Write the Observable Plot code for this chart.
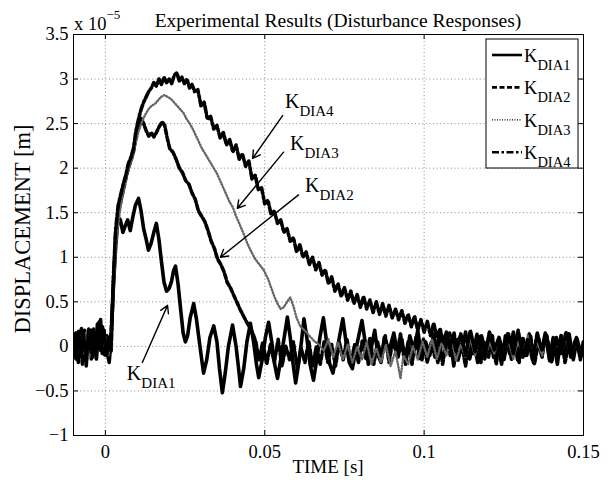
<!DOCTYPE html>
<html><head><meta charset="utf-8">
<script src="https://cdn.jsdelivr.net/npm/d3@7"></script>
<script src="https://cdn.jsdelivr.net/npm/@observablehq/plot@0.6"></script>
<style>body{margin:0;background:#fff;}</style>
</head><body><div id="chart"></div>
<script>
// ---- data (time in s, displacement in units of 1e-5 m) ----
const xTicks = [0, 0.05, 0.1, 0.15];
const yTicks = [-1, -0.5, 0, 0.5, 1, 1.5, 2, 2.5, 3, 3.5];
const seriesNames = ["DIA1", "DIA2", "DIA3", "DIA4"];

const kdia1 = [
[-0.0100,0.08],[-0.0095,-0.12],[-0.0090,0.15],[-0.0085,-0.18],[-0.0080,0.05],[-0.0075,0.20],[-0.0070,-0.15],[-0.0065,0.10],[-0.0060,-0.22],[-0.0055,0.12],[-0.0050,0.02],[-0.0045,0.18],[-0.0040,-0.12],[-0.0035,0.15],[-0.0030,-0.05],[-0.0025,0.25],[-0.0020,0.05],[-0.0015,0.30],[-0.0010,-0.08],[-0.0005,0.15],[0.0000,0.10],[0.0005,-0.05],[0.0012,-0.18],[0.0018,0.10],
[0.0025,0.65],[0.0032,1.10],[0.0040,1.45],[0.0047,1.42],[0.0055,1.28],[0.0062,1.35],[0.0070,1.42],[0.0078,1.30],[0.0086,1.45],[0.0094,1.58],[0.0104,1.66],[0.0112,1.52],[0.0120,1.32],[0.0128,1.20],[0.0135,1.08],[0.0143,1.15],[0.0152,1.28],[0.0160,1.38],[0.0168,1.20],[0.0176,0.95],[0.0184,0.72],[0.0192,0.62],[0.0200,0.65],[0.0207,0.72],[0.0214,0.85],[0.0220,0.90],[0.0228,0.70],[0.0236,0.42],[0.0244,0.15],[0.0251,0.05],[0.0258,0.12],[0.0266,0.32],[0.0277,0.48],[0.0286,0.30],[0.0296,0.02],[0.0308,-0.30],[0.0318,-0.15],[0.0328,0.10],[0.0340,0.23],[0.0350,0.05],[0.0358,-0.25],[0.0367,-0.52],[0.0376,-0.30],[0.0386,0.00],[0.0399,0.24],[0.0410,0.00],[0.0418,-0.25],[0.0424,-0.45],[0.0434,-0.25],[0.0444,0.05],[0.0455,0.26],[0.0465,0.05],[0.0474,-0.20],[0.0481,-0.35],[0.0492,-0.15],[0.0502,0.10],[0.0512,0.27],[0.0522,0.05],[0.0531,-0.20],[0.0540,-0.36],[0.0550,-0.15],[0.0561,0.10],[0.0571,0.33],[0.0580,0.10],[0.0589,-0.20],[0.0597,-0.41],[0.0606,-0.20],[0.0615,0.05],[0.0623,0.31],[0.0632,0.10],[0.0642,-0.20],[0.0653,-0.38],[0.0663,-0.15],[0.0673,0.10],[0.0684,0.32],[0.0694,0.05],[0.0704,-0.20],[0.0714,-0.30],[0.0724,-0.10],[0.0734,0.10],[0.0745,0.31],[0.0755,0.05],[0.0765,-0.18],[0.0775,-0.25],[0.0785,-0.05],[0.0795,0.12],[0.0805,0.29],[0.0815,0.05],[0.0825,-0.20],[0.0835,0.00],[0.0845,0.18],[0.0855,-0.10],[0.0865,-0.18],[0.0875,0.10],
[0.0890,-0.05],[0.0905,0.15],[0.0918,-0.12],[0.0930,0.08],[0.0942,-0.20],[0.0955,0.12],[0.0968,-0.05],[0.0980,0.18],[0.0993,-0.15],[0.1005,0.05],[0.1018,-0.10],[0.1030,0.14],[0.1043,-0.18],[0.1056,0.10],[0.1068,-0.08],[0.1080,0.15],[0.1093,-0.22],[0.1105,0.08],[0.1118,-0.05],[0.1130,0.16],[0.1143,-0.14],[0.1156,0.06],[0.1168,-0.18],[0.1180,0.12],[0.1193,-0.06],[0.1205,0.15],[0.1218,-0.12],[0.1230,0.05],[0.1243,-0.20],[0.1255,0.12],[0.1268,-0.08],[0.1280,0.16],[0.1293,-0.15],[0.1305,0.08],[0.1318,-0.10],[0.1330,0.14],[0.1343,-0.18],[0.1355,0.05],[0.1368,-0.06],[0.1380,0.15],[0.1393,-0.14],[0.1405,0.10],[0.1418,-0.20],[0.1430,0.12],[0.1443,-0.05],[0.1455,0.14],[0.1468,-0.15],[0.1480,0.08],[0.1493,-0.10],[0.1500,0.05]
];

const kdia2 = [
[-0.0100,-0.05],[-0.0093,0.15],[-0.0086,-0.15],[-0.0079,0.10],[-0.0072,-0.20],[-0.0065,0.18],[-0.0058,-0.08],[-0.0051,0.12],[-0.0044,-0.15],[-0.0037,0.20],[-0.0030,-0.10],[-0.0023,0.15],[-0.0016,-0.05],[-0.0009,0.22],[-0.0002,-0.10],[0.0005,0.12],[0.0012,-0.12],[0.0018,0.15],
[0.0025,0.70],[0.0032,1.25],[0.0040,1.50],[0.0048,1.62],[0.0056,1.75],[0.0064,1.88],[0.0072,2.00],[0.0080,2.08],[0.0088,2.18],[0.0096,2.35],[0.0104,2.48],[0.0112,2.56],[0.0120,2.50],[0.0128,2.42],[0.0136,2.36],[0.0144,2.40],[0.0152,2.35],[0.0160,2.40],[0.0168,2.46],[0.0178,2.52],[0.0186,2.48],[0.0194,2.34],[0.0202,2.22],[0.0212,2.18],[0.0222,2.10],[0.0232,2.00],[0.0242,1.95],[0.0252,1.86],[0.0262,1.82],[0.0272,1.72],[0.0282,1.65],[0.0292,1.52],[0.0302,1.46],[0.0312,1.40],[0.0322,1.30],[0.0332,1.18],[0.0342,1.10],[0.0352,0.98],[0.0362,0.92],[0.0372,0.84],[0.0382,0.72],[0.0392,0.66],[0.0402,0.58],[0.0412,0.50],[0.0422,0.42],[0.0432,0.35],[0.0442,0.28],[0.0452,0.22],[0.0462,0.15],[0.0472,0.05],
[0.0482,-0.15],[0.0494,0.05],[0.0506,-0.20],[0.0518,0.02],[0.0530,-0.18],[0.0542,0.08],[0.0554,-0.22],[0.0566,0.00],[0.0578,-0.15],[0.0590,0.05],[0.0602,-0.25],[0.0614,-0.02],[0.0626,-0.18],[0.0638,0.06],[0.0650,-0.22],[0.0662,0.00],[0.0674,-0.20],[0.0686,0.05],[0.0698,-0.18],[0.0710,0.02],[0.0722,-0.22],[0.0734,0.05],[0.0746,-0.15],[0.0758,0.08],[0.0770,-0.20],[0.0782,0.02],[0.0794,-0.18],[0.0806,0.06],[0.0818,-0.15],[0.0830,0.10],[0.0842,-0.20],[0.0854,0.05],[0.0866,-0.12],[0.0878,0.12],[0.0890,-0.18],[0.0902,0.08],[0.0914,-0.10],[0.0926,0.14],[0.0938,-0.16],[0.0950,0.05],[0.0962,-0.20],[0.0974,0.10],
[0.0986,-0.14],[0.0998,0.08],[0.1010,-0.18],[0.1022,0.04],[0.1034,-0.12],[0.1046,0.12],[0.1058,-0.20],[0.1070,0.06],[0.1082,-0.10],[0.1094,0.15],[0.1106,-0.16],[0.1118,0.02],[0.1130,-0.22],[0.1142,0.10],[0.1154,-0.08],[0.1166,0.14],[0.1178,-0.18],[0.1190,0.04],[0.1202,-0.12],[0.1214,0.12],[0.1226,-0.20],[0.1238,0.06],[0.1250,-0.08],[0.1262,0.14],[0.1274,-0.15],[0.1286,0.02],[0.1298,-0.18],[0.1310,0.10],[0.1322,-0.10],[0.1334,0.12],[0.1346,-0.20],[0.1358,0.04],[0.1370,-0.12],[0.1382,0.14],[0.1394,-0.16],[0.1406,0.06],[0.1418,-0.10],[0.1430,0.12],[0.1442,-0.18],[0.1454,0.02],[0.1466,-0.12],[0.1478,0.10],[0.1490,-0.15],[0.1500,0.02]
];

const kdia3 = [
[-0.0100,0.05],[-0.0090,-0.10],[-0.0080,0.12],[-0.0070,-0.08],[-0.0060,0.15],[-0.0050,-0.12],[-0.0040,0.10],[-0.0030,-0.05],[-0.0020,0.20],[-0.0010,0.00],[0.0000,0.12],[0.0010,-0.10],[0.0018,0.12],
[0.0025,0.60],[0.0035,1.20],[0.0045,1.50],[0.0055,1.72],[0.0065,1.88],[0.0075,2.02],[0.0085,2.12],[0.0095,2.28],[0.0105,2.42],[0.0115,2.52],[0.0125,2.60],[0.0135,2.66],[0.0145,2.70],[0.0155,2.72],[0.0165,2.76],[0.0175,2.80],[0.0185,2.82],[0.0195,2.80],[0.0205,2.78],[0.0215,2.74],[0.0225,2.70],[0.0235,2.66],[0.0245,2.62],[0.0255,2.55],[0.0265,2.50],[0.0277,2.42],[0.0290,2.32],[0.0300,2.24],[0.0310,2.18],[0.0320,2.12],[0.0330,2.06],[0.0340,2.00],[0.0350,1.94],[0.0360,1.86],[0.0370,1.78],[0.0380,1.70],[0.0390,1.62],[0.0400,1.56],[0.0410,1.46],[0.0420,1.38],[0.0433,1.27],[0.0445,1.16],[0.0458,1.06],[0.0470,0.98],[0.0483,0.92],[0.0496,0.86],[0.0510,0.76],[0.0520,0.66],[0.0530,0.56],[0.0540,0.48],[0.0550,0.42],[0.0560,0.44],[0.0570,0.50],[0.0580,0.55],[0.0590,0.45],[0.0600,0.32],[0.0612,0.22],[0.0625,0.18],[0.0640,0.12],[0.0655,0.06],[0.0670,0.02],[0.0685,-0.05],[0.0700,0.08],[0.0715,-0.12],[0.0730,0.05],[0.0745,-0.15],[0.0760,0.02],[0.0775,-0.18],[0.0790,0.00],[0.0805,-0.15],[0.0820,0.05],[0.0835,-0.20],[0.0850,-0.02],[0.0865,-0.18],[0.0880,0.02],[0.0895,-0.22],[0.0910,-0.05],[0.0926,-0.36],[0.0935,-0.10],[0.0950,-0.20],[0.0965,0.00],[0.0980,-0.15],[0.0995,0.05],[0.1010,-0.12],
[0.1025,0.08],[0.1040,-0.14],[0.1055,0.04],[0.1070,-0.10],[0.1085,0.10],[0.1100,-0.16],[0.1115,0.02],[0.1130,-0.12],[0.1145,0.08],[0.1160,-0.10],[0.1175,0.12],[0.1190,-0.14],[0.1205,0.04],[0.1220,-0.08],[0.1235,0.10],[0.1250,-0.12],[0.1265,0.06],[0.1280,-0.14],[0.1295,0.08],[0.1310,-0.10],[0.1325,0.12],[0.1340,-0.12],[0.1355,0.04],[0.1370,-0.10],[0.1385,0.10],[0.1400,-0.14],[0.1415,0.06],[0.1430,-0.08],[0.1445,0.10],[0.1460,-0.12],[0.1475,0.04],[0.1490,-0.06],[0.1500,0.02]
];

const kdia4 = [
[-0.0100,0.10],[-0.0092,-0.15],[-0.0084,0.18],[-0.0076,-0.10],[-0.0068,0.12],[-0.0060,-0.18],[-0.0052,0.20],[-0.0044,-0.08],[-0.0036,0.15],[-0.0028,-0.15],[-0.0020,0.28],[-0.0012,0.00],[-0.0004,0.18],[0.0004,-0.10],[0.0012,0.10],[0.0018,-0.05],
[0.0025,0.75],[0.0032,1.30],[0.0040,1.58],[0.0048,1.70],[0.0056,1.82],[0.0064,1.92],[0.0072,2.05],[0.0080,2.12],[0.0088,2.22],[0.0096,2.42],[0.0104,2.55],[0.0112,2.66],[0.0120,2.74],[0.0128,2.80],[0.0136,2.86],[0.0144,2.90],[0.0152,2.96],[0.0160,2.92],[0.0168,3.00],[0.0176,2.94],[0.0184,3.02],[0.0192,2.96],[0.0200,3.00],[0.0208,2.95],[0.0216,3.04],[0.0224,3.07],[0.0232,2.98],[0.0240,3.02],[0.0248,2.95],[0.0256,3.00],[0.0264,2.90],[0.0272,2.94],[0.0280,2.86],
[0.0290,2.88],[0.0300,2.70],[0.0310,2.74],[0.0320,2.55],[0.0330,2.58],[0.0340,2.44],[0.0350,2.48],[0.0360,2.34],[0.0370,2.40],[0.0380,2.26],[0.0390,2.32],[0.0400,2.18],[0.0410,2.26],[0.0420,2.10],[0.0430,2.16],[0.0440,2.02],[0.0450,2.08],[0.0460,1.88],[0.0470,1.92],[0.0480,1.76],[0.0490,1.78],[0.0500,1.60],[0.0510,1.64],[0.0520,1.48],[0.0530,1.52],[0.0540,1.38],[0.0550,1.42],[0.0560,1.28],[0.0570,1.32],[0.0580,1.18],[0.0590,1.22],[0.0600,1.06],[0.0610,1.14],[0.0620,1.00],[0.0630,1.06],[0.0640,0.92],[0.0650,1.00],[0.0660,0.86],[0.0670,0.94],[0.0680,0.80],[0.0690,0.86],[0.0700,0.70],[0.0710,0.78],[0.0720,0.62],[0.0730,0.70],[0.0740,0.56],[0.0750,0.66],[0.0760,0.52],[0.0770,0.62],[0.0780,0.48],[0.0790,0.58],[0.0800,0.44],[0.0810,0.56],[0.0820,0.42],[0.0830,0.52],[0.0840,0.38],[0.0850,0.50],[0.0860,0.36],[0.0870,0.48],[0.0880,0.34],[0.0890,0.46],[0.0900,0.32],[0.0910,0.42],[0.0920,0.30],[0.0930,0.40],[0.0940,0.26],[0.0950,0.36],[0.0960,0.22],[0.0970,0.34],[0.0980,0.18],[0.0990,0.30],[0.1000,0.16],[0.1010,0.28],[0.1020,0.12],[0.1030,0.26],[0.1040,0.10],[0.1050,0.20],[0.1060,0.04],[0.1070,0.16],[0.1080,-0.02],[0.1090,0.12],[0.1100,-0.05],
[0.1115,0.14],[0.1130,-0.10],[0.1145,0.18],[0.1160,-0.06],[0.1175,0.12],[0.1190,-0.14],[0.1205,0.16],[0.1220,-0.04],[0.1235,0.10],[0.1250,-0.16],[0.1265,0.14],[0.1280,-0.08],[0.1295,0.18],[0.1310,-0.12],[0.1325,0.08],[0.1340,-0.15],[0.1355,0.15],[0.1370,-0.05],[0.1385,0.12],[0.1400,-0.18],[0.1415,0.10],[0.1430,-0.08],[0.1445,0.16],[0.1460,-0.12],[0.1475,0.08],[0.1490,-0.10],[0.1500,0.05]
];

// annotation arrows and labels, in data units
const annotations = [
  {name: "DIA4", tx: 0.0565, ty: 2.67, x1: 0.0556, y1: 2.59, x2: 0.0462, y2: 2.11},
  {name: "DIA3", tx: 0.0581, ty: 2.20, x1: 0.0559, y1: 2.18, x2: 0.0414, y2: 1.55},
  {name: "DIA2", tx: 0.0628, ty: 1.73, x1: 0.0606, y1: 1.70, x2: 0.0361, y2: 1.00},
  {name: "DIA1", tx: 0.0069, ty: -0.38, x1: 0.0116, y1: -0.18, x2: 0.0195, y2: 0.46}
];

// ---- styles ----
const FONT = "Liberation Serif, Times New Roman, serif";
const lineStyles = [
  {w: 3.6, dash: null, c: "black"},
  {w: 3.6, dash: "5,2.5", c: "black"},
  {w: 2.4, dash: "0.8,2.2", c: "#666"},
  {w: 3.6, dash: "7,2.5,2.5,2.5", c: "black"}
];
const legendWidths = [2.6, 2.6, 1.2, 2.6];
const seriesData = [kdia1, kdia2, kdia3, kdia4];
const fmt = d => d < 0 ? "\u2212" + Math.abs(d) : String(d);
const W = 613, H = 480, ML = 73, MR = 30, MT = 34, MB = 45;
const IW = W - ML - MR, IH = H - MT - MB;
const gridStyle = {stroke: "#8a8a8a", strokeOpacity: 1, strokeWidth: 1, strokeDasharray: "1,2.6"};

const plot = Plot.plot({
  width: W, height: H,
  marginLeft: ML, marginRight: MR, marginTop: MT, marginBottom: MB,
  style: {fontFamily: FONT, fontSize: "18.5px", background: "white", color: "black"},
  x: {domain: [-0.01, 0.15]},
  y: {domain: [-1, 3.5]},
  marks: [
    Plot.gridX(xTicks, gridStyle),
    Plot.gridY(yTicks, gridStyle),
    ...seriesData.map((s, i) => Plot.line(s, {
      x: d => d[0], y: d => d[1], stroke: lineStyles[i].c,
      strokeWidth: lineStyles[i].w, strokeDasharray: lineStyles[i].dash,
      strokeLinejoin: "round", clip: true
    })),
    Plot.frame({stroke: "black", strokeWidth: 1}),
    Plot.tickX(xTicks, {x: d => d, insetTop: IH - 5, stroke: "black"}),
    Plot.tickX(xTicks, {x: d => d, insetBottom: IH - 5, stroke: "black"}),
    Plot.tickY(yTicks, {y: d => d, insetRight: IW - 5, stroke: "black"}),
    Plot.tickY(yTicks, {y: d => d, insetLeft: IW - 5, stroke: "black"}),
    Plot.axisX(xTicks, {tickSize: 0, tickPadding: 9, tickFormat: fmt, label: null, fontSize: 18.5, fontFamily: FONT}),
    Plot.axisY(yTicks, {tickSize: 0, tickPadding: 5, tickFormat: fmt, label: null, fontSize: 18.5, fontFamily: FONT}),
    Plot.arrow(annotations, {x1: "x1", y1: "y1", x2: "x2", y2: "y2", stroke: "black", strokeWidth: 1.4, headLength: 9})
  ]
});

const svg = d3.select(plot);
const sx = plot.scale("x"), sy = plot.scale("y");
function txt(parent, x, y, size, anchor) {
  return parent.append("text").attr("x", x).attr("y", y)
    .attr("text-anchor", anchor).style("font-family", FONT)
    .style("font-size", size + "px").attr("fill", "black");
}

// title
txt(svg, 338, 27, 19.5, "middle").text("Experimental Results (Disturbance Responses)");
// exponent
const ex = txt(svg, 74, 30, 18.5, "start");
ex.append("tspan").text("x 10");
ex.append("tspan").attr("dy", -11).style("font-size", "13px").text("\u22125");
// axis labels
txt(svg, ML + IW / 2, 473, 19, "middle").text("TIME [s]");
txt(svg, 0, 0, 22.5, "middle").attr("transform", "translate(30,229) rotate(-90)").text("DISPLACEMENT [m]");

// annotation labels
annotations.forEach(a => {
  const t = txt(svg, sx.apply(a.tx), sy.apply(a.ty), 20, "start");
  t.append("tspan").text("K");
  t.append("tspan").attr("dy", 8).style("font-size", "15px").text(a.name);
});

// legend
const lg = svg.append("g");
lg.append("rect").attr("x", 486).attr("y", 39).attr("width", 92).attr("height", 129)
  .attr("fill", "white").attr("stroke", "black").attr("stroke-width", 1);
seriesNames.forEach((n, i) => {
  const y = 55 + i * 32.4;
  lg.append("line").attr("x1", 492).attr("x2", 522).attr("y1", y).attr("y2", y)
    .attr("stroke", "black").attr("stroke-width", legendWidths[i])
    .attr("stroke-dasharray", i === 2 ? "1,1.5" : lineStyles[i].dash);
  const t = txt(lg, 524, y + 7, 18.5, "start");
  t.append("tspan").text("K");
  t.append("tspan").attr("dy", 8).style("font-size", "14.5px").text(n);
});

document.getElementById("chart").appendChild(plot);
</script>
</body></html>
